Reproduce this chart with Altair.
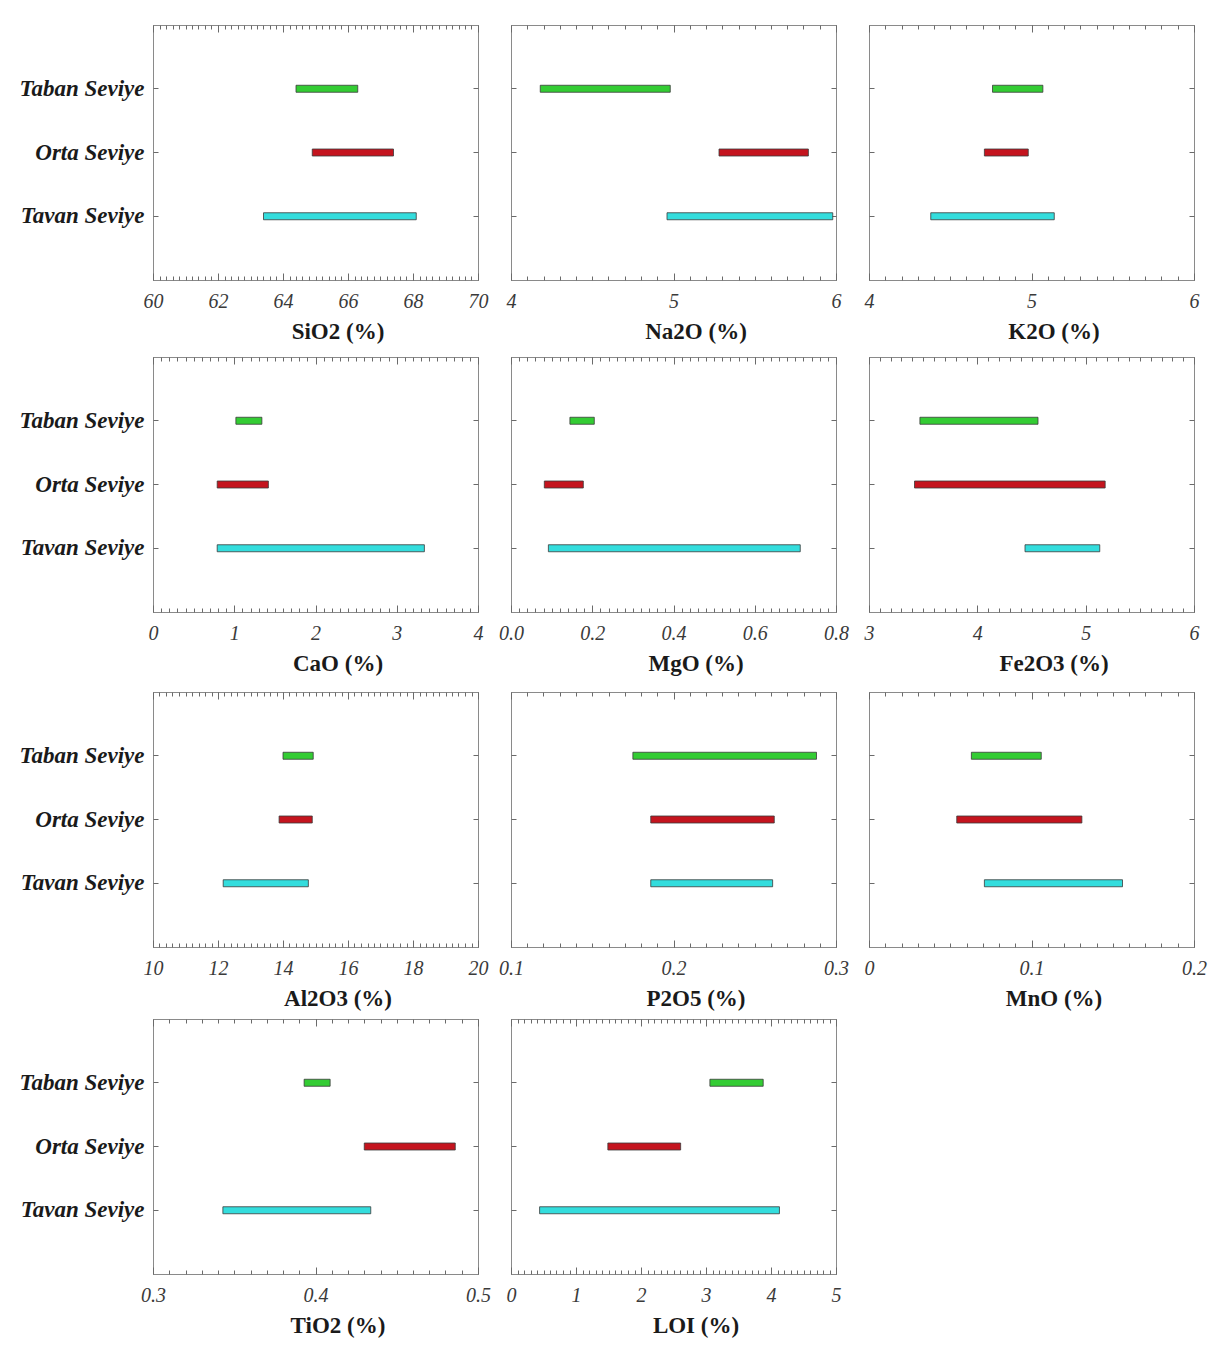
import altair as alt
import pandas as pd
import numpy as np

levels = ["Taban Seviye", "Orta Seviye", "Tavan Seviye"]
colors = ["#33cc33", "#c4141e", "#33dddd"]

elements = ["SiO2", "Na2O", "K2O", "CaO", "MgO", "Fe2O3", "Al2O3", "P2O5", "MnO", "TiO2", "LOI"]

taban_min = [64.4, 4.18, 4.76, 1.02, 0.145, 3.47, 14.00, 0.175, 0.063, 0.393, 3.06]
taban_max = [66.3, 4.98, 5.07, 1.34, 0.205, 4.56, 14.93, 0.288, 0.106, 0.409, 3.88]
orta_min = [64.9, 5.28, 4.71, 0.79, 0.082, 3.42, 13.88, 0.186, 0.054, 0.430, 1.49]
orta_max = [67.4, 5.83, 4.98, 1.42, 0.178, 5.18, 14.90, 0.262, 0.131, 0.486, 2.61]
tavan_min = [63.4, 4.96, 4.38, 0.79, 0.092, 4.44, 12.16, 0.186, 0.071, 0.343, 0.44]
tavan_max = [68.1, 5.98, 5.14, 3.34, 0.712, 5.13, 14.78, 0.261, 0.156, 0.434, 4.13]

domains = [(60, 70), (4, 6), (4, 6), (0, 4), (0, 0.8), (3, 6), (10, 20), (0.1, 0.3), (0, 0.2), (0.3, 0.5), (0, 5)]
major_ticks = [
    [60, 62, 64, 66, 68, 70],
    [4, 5, 6],
    [4, 5, 6],
    [0, 1, 2, 3, 4],
    [0.0, 0.2, 0.4, 0.6, 0.8],
    [3, 4, 5, 6],
    [10, 12, 14, 16, 18, 20],
    [0.1, 0.2, 0.3],
    [0, 0.1, 0.2],
    [0.3, 0.4, 0.5],
    [0, 1, 2, 3, 4, 5],
]
label_formats = ["d", "d", "d", "d", ".1f", "d", "d", ".1f", "~g", ".1f", "d"]
minor_steps = [0.2, 0.1, 0.1, 0.1, 0.02, 0.1, 0.2, 0.01, 0.01, 0.01, 0.1]

SERIF = "Liberation Serif"
W, H = 325, 255


def minor_values(lo, hi, step):
    n = int(round((hi - lo) / step))
    return [round(lo + k * step, 6) for k in range(n + 1)]


def label_axis(i):
    majors = major_ticks[i]
    common = dict(
        orient="bottom", title=f"{elements[i]} (%)", offset=-7, tickSize=7, domain=False,
        grid=False, labelPadding=11, titlePadding=9, labelFlush=False, labelOverlap=False,
        titleX=W / 2 + 22, titleAlign="center",
    )
    if len(majors) == 3 and all(float(v).is_integer() for v in majors):
        # add half steps (hidden) so the middle label is kept
        vals = []
        for a, b in zip(majors[:-1], majors[1:]):
            vals += [a, (a + b) / 2]
        vals.append(majors[-1])
        return alt.Axis(
            values=vals, tickCount=len(vals),
            labelExpr="datum.value % 1 == 0 ? format(datum.value, 'd') : ''",
            tickOpacity={"condition": {"test": "datum.value % 1 != 0", "value": 0}, "value": 1},
            **common,
        )
    return alt.Axis(values=majors, tickCount=len(majors), format=label_formats[i], **common)


def panel(i, show_y_labels):
    lo, hi = domains[i]
    df = pd.DataFrame({
        "level": levels,
        "lo": [taban_min[i], orta_min[i], tavan_min[i]],
        "hi": [taban_max[i], orta_max[i], tavan_max[i]],
    })
    xs = alt.Scale(domain=[lo, hi], nice=False, zero=False)
    ys = alt.Scale(type="band", domain=levels, paddingInner=0, paddingOuter=0.5)
    cs = alt.Scale(domain=levels, range=colors)
    majors = major_ticks[i]
    minors = minor_values(lo, hi, minor_steps[i])
    base = alt.Chart(df)

    bars = base.mark_bar(size=7, stroke="#3a3a3a", strokeWidth=0.8).encode(
        x=alt.X("lo:Q", scale=xs, axis=label_axis(i)),
        x2="hi:Q",
        y=alt.Y("level:N", scale=ys, sort=levels, axis=alt.Axis(
            orient="left", title=None, labels=show_y_labels, offset=-5, tickSize=5,
            domain=False, grid=False, labelPadding=9, labelFont=SERIF, labelFontSize=23,
            labelFontWeight="bold", labelFontStyle="italic", labelColor="#1a1a1a")),
        color=alt.Color("level:N", scale=cs, legend=None),
    )
    bottom_minor = base.mark_bar(opacity=0).encode(
        x=alt.X("lo:Q", scale=xs, axis=alt.Axis(
            orient="bottom", values=minors, tickCount=len(minors), labels=False,
            title=None, offset=-4, tickSize=4, domain=False, grid=False)),
        x2="hi:Q",
        y=alt.Y("level:N", scale=ys, sort=levels, axis=alt.Axis(
            orient="right", title=None, labels=False, offset=-5, tickSize=5,
            domain=False, grid=False)),
    )
    top_major = base.mark_bar(opacity=0).encode(
        x=alt.X("lo:Q", scale=xs, axis=alt.Axis(
            orient="top", values=majors, tickCount=len(majors), labels=False,
            title=None, offset=-7, tickSize=7, domain=False, grid=False)),
        x2="hi:Q",
        y=alt.Y("level:N", scale=ys, sort=levels, axis=None),
    )
    top_minor = base.mark_bar(opacity=0).encode(
        x=alt.X("lo:Q", scale=xs, axis=alt.Axis(
            orient="top", values=minors, tickCount=len(minors), labels=False,
            title=None, offset=-4, tickSize=4, domain=False, grid=False)),
        x2="hi:Q",
        y=alt.Y("level:N", scale=ys, sort=levels, axis=None),
    )
    return alt.layer(bars, bottom_minor, top_major, top_minor).resolve_axis(
        x="independent", y="independent"
    ).properties(width=W, height=H)


p = [panel(i, i in (0, 3, 6, 9)) for i in range(len(elements))]


def row(*charts):
    return alt.hconcat(*charts, spacing=33, bounds="flush")


r1 = row(p[0], p[1], p[2])
r2 = row(p[3], p[4], p[5])
r3 = row(p[6], p[7], p[8])
r4 = row(p[9], p[10])

top = alt.vconcat(r1, r2, spacing=12)
bot = alt.vconcat(r3, r4, spacing=7)

chart = alt.vconcat(top, bot, spacing=15).properties(
    padding={"left": 10, "top": 16, "right": 10, "bottom": 10}
).configure_view(
    stroke="#8a8a8a", strokeWidth=1
).configure_axis(
    labelFont=SERIF, labelFontStyle="italic", labelFontSize=20, labelColor="#3a3a3a",
    tickColor="#6a6a6a", tickWidth=1, grid=False,
    titleFont=SERIF, titleFontWeight="bold", titleFontSize=23, titleColor="#1a1a1a",
)

chart.save("out.html", embed_options={"renderer": "svg", "actions": False})
